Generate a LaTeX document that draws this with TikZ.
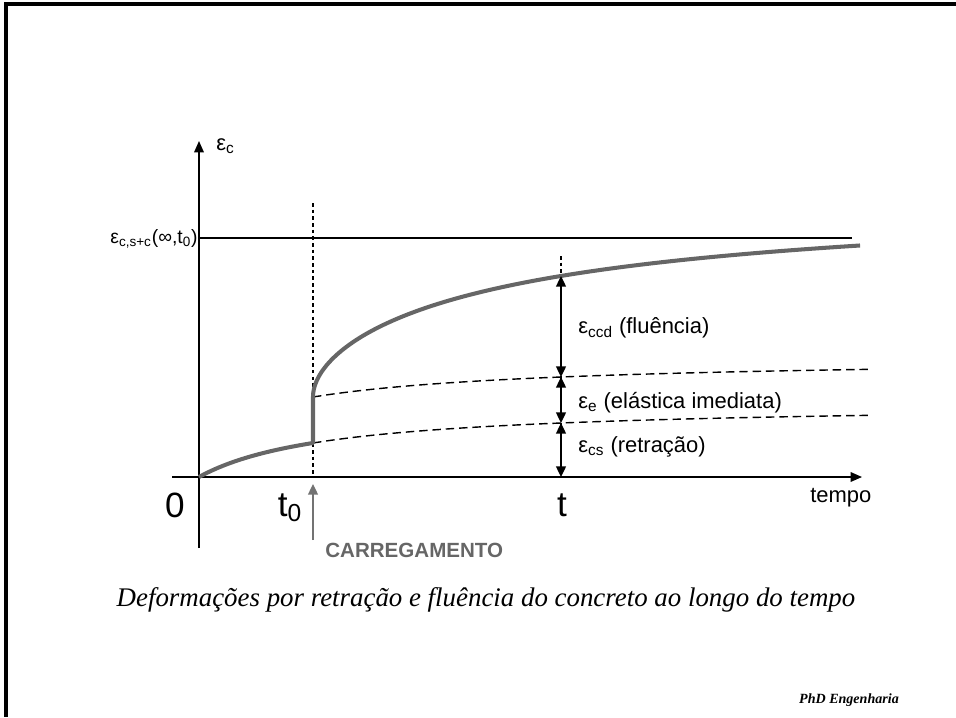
\documentclass[tikz,border=0pt]{standalone}
\usepackage{fontspec}
\setmainfont{Liberation Sans}
\newfontfamily\capfont{Liberation Serif}
\usetikzlibrary{arrows.meta, positioning}

\begin{document}
\begin{tikzpicture}[%
    x = 0.02cm, y = -0.02cm,
    >= {Triangle[length=6pt, width=5.6pt]},
    declare function = {%
      shr(\v) = 74*(\v/(134+\v));
      crp(\u) = 162.8*sqrt(\u/(396+\u));},
    axis/.style = {line width=0.8pt, black},
    curve/.style = {line width=2.3pt, black!60, line join=round},
    guide/.style = {line width=0.8pt, dash pattern=on 4.8pt off 2.8pt},
    vline/.style = {line width=0.7pt, dash pattern=on 2pt off 1.8pt},
    measure/.style = {line width=0.8pt, <->},
    lbl/.style = {font=\fontsize{12.5}{15}\selectfont, inner sep=0pt},
    big/.style = {font=\fontsize{20}{24}\selectfont, inner sep=0pt}
  ]
\useasboundingbox (0,0) rectangle (956,717);

\draw[line width=1.9pt] (956,4) -- (6,4) -- (6,717);

\coordinate (O)     at (199,477);
\coordinate (T0)    at (313,477);
\coordinate (T)     at (561,477);
\coordinate (ybot)  at (199,548);
\coordinate (ytop)  at (199,141);
\coordinate (xl)    at (172,477);
\coordinate (xr)    at (862,477);
\coordinate (lim)   at (199,238);
\coordinate (limend) at (852,238);
\coordinate (t0top) at (313,203);
\coordinate (ttop)  at (561,256);
\coordinate (pT)    at (561,276);
\coordinate (eT)    at (561,377);
\coordinate (sT)    at (561,423);
\coordinate (carrfoot) at (313,540);
\coordinate (carrtip)  at (313,484);

\draw[axis, -{Triangle[length=6.5pt, width=5.5pt]}] (ybot) -- (ytop);
\draw[axis, -{Triangle[length=6.5pt, width=5.5pt]}] (xl) -- (xr);
\draw[line width=0.7pt] (lim) -- (limend);

\draw[vline] (t0top) -- (T0);
\draw[vline] (ttop) -- (T);

\draw[guide] plot[domain=114:671, samples=40] ({199+\x},{477-shr(\x)});
\draw[guide] plot[domain=114:671, samples=40] ({199+\x},{477-shr(\x)-46});

\draw[curve] plot[domain=0:114, samples=40] ({199+\x},{477-shr(\x)})
  -- plot[domain=0:23.39, samples=90] ({313+\x*\x},{477-shr(114+\x*\x)-46-crp(\x*\x)});

\draw[measure] (pT) -- (eT);
\draw[measure] (eT) -- (sT);
\draw[measure] (sT) -- (T);

\node[lbl, anchor=west] (lccd) at (578,328) {ε\textsubscript{ccd} (fluência)};
\node[lbl, anchor=west] (le)   at (578,403) {ε\textsubscript{e} (elástica imediata)};
\node[lbl, anchor=west] (lcs)  at (578,447) {ε\textsubscript{cs} (retração)};

\node[lbl, anchor=west] (ylab) at (216,146) {ε\textsubscript{c}};
\node[lbl, font=\fontsize{11}{13}\selectfont, anchor=east] (ylim) at (198,239) {ε\textsubscript{c,s+c}(∞,t\textsubscript{0})};
\node[lbl, anchor=west] (tempo) at (810,498) {tempo};

\node[big] (zero) at (175,505) {0};
\node[big] (lt0)  at (290,508) {t\textsubscript{0}};
\node[big] (lt)   at (562,505) {t};

\draw[->, black!55, line width=0.8pt] (carrfoot) -- (carrtip);
\node[lbl, font=\fontsize{11.7}{14}\selectfont\bfseries, black!60, anchor=west] (carr) at (325,550) {CARREGAMENTO};

\node[font=\capfont\itshape\fontsize{15.3}{18}\selectfont] (caption) at (486,600)
  {Deformações por retração e fluência do concreto ao longo do tempo};
\node[font=\capfont\bfseries\itshape\fontsize{8}{10}\selectfont, anchor=east] (brand) at (905,700) {PhD Engenharia};

\end{tikzpicture}
\end{document}
